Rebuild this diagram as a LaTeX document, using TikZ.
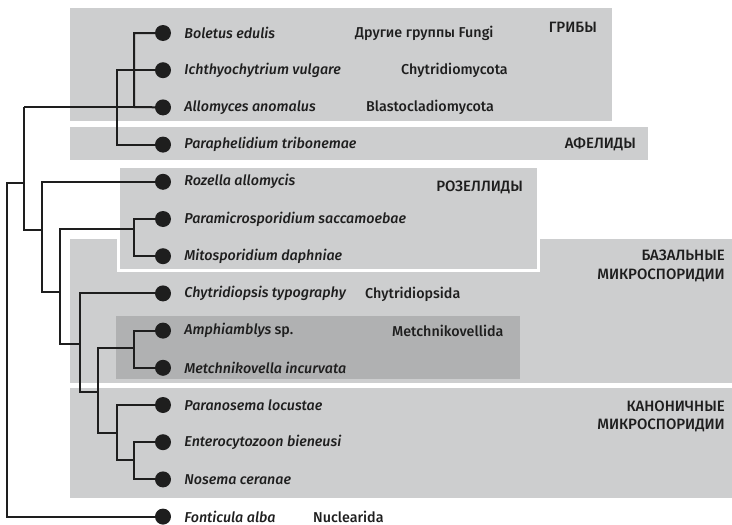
\documentclass[tikz,border=0pt]{standalone}
\usepackage{fontspec}
\setmainfont{Fira Sans}[UprightFont={Fira Sans Medium}, ItalicFont={Fira Sans Medium Italic}]
\usepackage{tikz}
\usetikzlibrary{calc,positioning}
\definecolor{boxgray}{RGB}{205,206,207}
\definecolor{darkbox}{RGB}{176,177,178}
\definecolor{inkblack}{RGB}{30,30,30}
\tikzset{
leaf_dot/.style={circle, fill=inkblack, inner sep=0, minimum size=16pt},
taxon/.style={anchor=west, inner sep=0, text=inkblack, font=\fontsize{14.3}{16}\selectfont\itshape},
group_name/.style={anchor=west, inner sep=0, text=inkblack, font=\fontsize{14.3}{16}\selectfont},
clade_name/.style={anchor=east, inner sep=0, text=inkblack, align=right, font=\fontsize{15}{18.5}\selectfont},
clade_box/.style={fill=boxgray, draw=none},
branch/.style={line width=2pt, draw=inkblack}
}

\begin{document}
\begin{tikzpicture}[x=1pt, y=-1pt]
    \useasboundingbox (0,0) rectangle (732,525);
    % clade boxes
    \fill[boxgray] (70,8) rectangle (612,121);
    \fill[boxgray] (70,127) rectangle (648,160);
    \fill[boxgray] (70,239) rectangle (732,383);
    \fill[boxgray] (70,388) rectangle (732,498);
    \draw[clade_box, draw=white, line width=3pt] (118.5,166.5) rectangle (538.5,270.5);
    \fill[darkbox] (116,316) rectangle (520,379);
    % leaves
    \node[leaf_dot] (boletus) at (163,33) {};
    \node[leaf_dot] (ichthyo) [below=20.8pt of boletus] {};
    \node[leaf_dot] (allomyces) [below=20.8pt of ichthyo] {};
    \node[leaf_dot] (paraphel) [below=20.8pt of allomyces] {};
    \node[leaf_dot] (rozella) [below=20.8pt of paraphel] {};
    \node[leaf_dot] (paramicro) [below=20.8pt of rozella] {};
    \node[leaf_dot] (mitospor) [below=20.8pt of paramicro] {};
    \node[leaf_dot] (chytrid) [below=20.8pt of mitospor] {};
    \node[leaf_dot] (amphi) [below=20.8pt of chytrid] {};
    \node[leaf_dot] (metchni) [below=20.8pt of amphi] {};
    \node[leaf_dot] (paranos) [below=20.8pt of metchni] {};
    \node[leaf_dot] (enteroc) [below=20.8pt of paranos] {};
    \node[leaf_dot] (nosema) [below=20.8pt of enteroc] {};
    \node[leaf_dot] (fonticula) [below=20.8pt of nosema] {};
    % taxon names
    \node[taxon] (t_boletus) [right=13pt of boletus] {Boletus edulis};
    \node[taxon] (t_ichthyo) [right=13pt of ichthyo] {Ichthyochytrium vulgare};
    \node[taxon] (t_allomyces) [right=13pt of allomyces] {Allomyces anomalus};
    \node[taxon] (t_paraphel) [right=13pt of paraphel] {Paraphelidium tribonemae};
    \node[taxon] (t_rozella) [right=13pt of rozella] {Rozella allomycis};
    \node[taxon] (t_paramicro) [right=13pt of paramicro] {Paramicrosporidium saccamoebae};
    \node[taxon] (t_mitospor) [right=13pt of mitospor] {Mitosporidium daphniae};
    \node[taxon] (t_chytrid) [right=13pt of chytrid] {Chytridiopsis typography};
    \node[taxon] (t_amphi) [right=13pt of amphi] {Amphiamblys \upshape sp.};
    \node[taxon] (t_metchni) [right=13pt of metchni] {Metchnikovella incurvata};
    \node[taxon] (t_paranos) [right=13pt of paranos] {Paranosema locustae};
    \node[taxon] (t_enteroc) [right=13pt of enteroc] {Enterocytozoon bieneusi};
    \node[taxon] (t_nosema) [right=13pt of nosema] {Nosema ceranae};
    \node[taxon] (t_fonticula) [right=13pt of fonticula] {Fonticula alba};
    % group names
    \node[group_name] (g_fungi) at (355,33) {Другие группы Fungi};
    \node[group_name] (g_chytrid) at (401,70) {Chytridiomycota};
    \node[group_name] (g_blasto) at (366,107) {Blastocladiomycota};
    \node[group_name] (g_chytridiopsida) at (365,294) {Chytridiopsida};
    \node[group_name] (g_metchni) at (392,331) {Metchnikovellida};
    \node[group_name] (g_nuclear) at (313,516.6) {Nuclearida};
    % clade names
    \node[clade_name] (c_fungi) at (597,27) {ГРИБЫ};
    \node[clade_name] (c_aphel) at (636,144) {АФЕЛИДЫ};
    \node[clade_name] (c_rozel) at (523,187) {РОЗЕЛЛИДЫ};
    \node[clade_name] (c_basal) at (725,266) {БАЗАЛЬНЫЕ\\МИКРОСПОРИДИИ};
    \node[clade_name] (c_canon) at (725,416.5) {КАНОНИЧНЫЕ\\МИКРОСПОРИДИИ};
    % branch points
    \coordinate (j_bolallo) at (134,107);
    \coordinate (j_fungaph) at (117,107);
    \coordinate (j_top) at (24,107);
    \coordinate (j_root) at (24,183);
    \coordinate (j_base) at (7,183);
    \coordinate (j_rozmicro) at (24,230);
    \coordinate (j_roz) at (42,230);
    \coordinate (j_micro) at (60,292);
    \coordinate (j_paramito) at (134,229);
    \coordinate (j_mikro) at (80,344);
    \coordinate (j_core) at (98,392);
    \coordinate (j_metch) at (134,348);
    \coordinate (j_canon) at (117,433);
    \coordinate (j_entnos) at (134,460);
    % tree
    \draw[branch] (boletus) -| (j_bolallo) -- (allomyces);
    \draw[branch] (ichthyo) -| (j_fungaph) |- (paraphel);
    \draw[branch] (j_top) -- (j_fungaph) -- (j_bolallo);
    \draw[branch] (j_top) -- (j_rozmicro) -- (j_roz);
    \draw[branch] (j_root) -- (j_base) |- (fonticula);
    \draw[branch] (rozella) -| (j_roz) |- (j_micro);
    \draw[branch] (paramicro) -| (j_paramito) |- (mitospor);
    \draw[branch] (j_paramito) -| (j_micro) |- (j_mikro);
    \draw[branch] (chytrid) -| (j_mikro) |- (j_core);
    \draw[branch] (j_metch) -| (j_core) |- (j_canon);
    \draw[branch] (amphi) -| (j_metch) |- (metchni);
    \draw[branch] (paranos) -| (j_canon) |- (j_entnos);
    \draw[branch] (enteroc) -| (j_entnos) |- (nosema);
\end{tikzpicture}
\end{document}
